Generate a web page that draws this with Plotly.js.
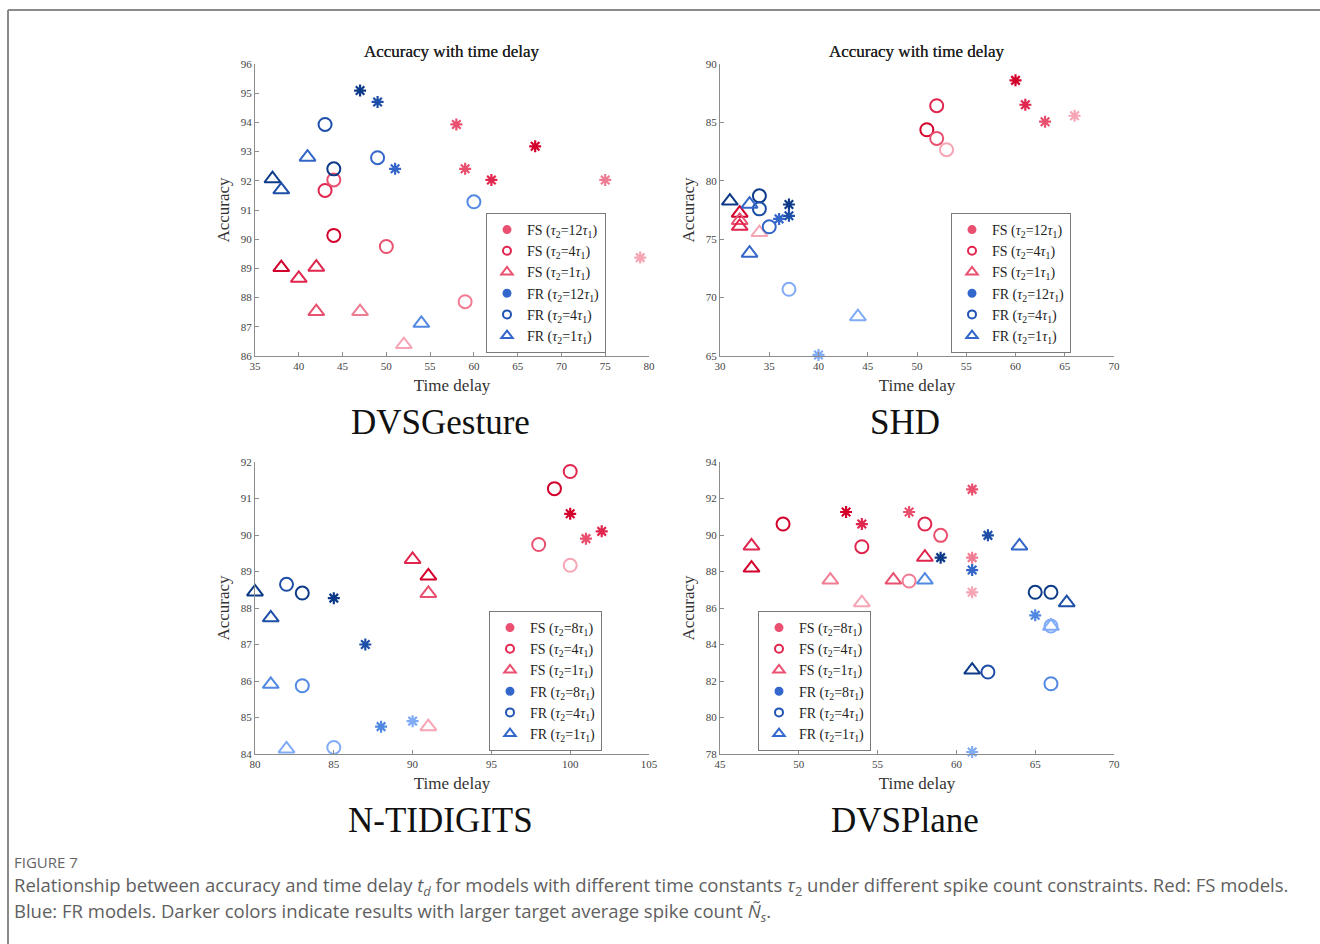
<!DOCTYPE html>
<html>
<head>
<meta charset="utf-8">
<script src="https://cdn.plot.ly/plotly-3.0.1.min.js"></script>
<style>
  html, body { margin: 0; padding: 0; background: #ffffff; }
  #chart { width: 1320px; height: 944px; }
</style>
</head>
<body>
<div id="chart"></div>
<script>
// ---------------- DATA ----------------
// level: 0 = largest target spike count (darkest) ... 4 = smallest (lightest)
const datasetNames = ['DVSGesture', 'SHD', 'N-TIDIGITS', 'DVSPlane'];
const panelTitle = 'Accuracy with time delay';
const xLabel = 'Time delay';
const yLabel = 'Accuracy';
const tauHigh = [12, 12, 8, 8];

// DVSGesture
const dvsg_fsA_x = [58, 67, 59, 62, 75, 79];
const dvsg_fsA_y = [93.93, 93.18, 92.41, 92.03, 92.03, 89.37];
const dvsg_fsA_lv = [2, 0, 2, 1, 3, 4];
const dvsg_fsO_x = [43, 44, 44, 50, 59];
const dvsg_fsO_y = [91.67, 92.03, 90.13, 89.75, 87.86];
const dvsg_fsO_lv = [1, 2, 0, 2, 3];
const dvsg_fsT_x = [38, 40, 42, 42, 47, 52];
const dvsg_fsT_y = [89.03, 88.66, 89.04, 87.52, 87.52, 86.39];
const dvsg_fsT_lv = [0, 1, 1, 2, 3, 4];
const dvsg_frA_x = [47, 49, 51];
const dvsg_frA_y = [95.09, 94.70, 92.41];
const dvsg_frA_lv = [0, 1, 2];
const dvsg_frO_x = [43, 44, 49, 60];
const dvsg_frO_y = [93.93, 92.41, 92.79, 91.28];
const dvsg_frO_lv = [1, 0, 2, 3];
const dvsg_frT_x = [41, 37, 38, 54];
const dvsg_frT_y = [92.81, 92.07, 91.69, 87.12];
const dvsg_frT_lv = [2, 0, 1, 3];

// SHD
const shd_fsA_x = [60, 61, 63, 66];
const shd_fsA_y = [88.6, 86.51, 85.06, 85.57];
const shd_fsA_lv = [0, 1, 2, 4];
const shd_fsO_x = [51, 52, 52, 53];
const shd_fsO_y = [84.37, 86.43, 83.63, 82.66];
const shd_fsO_lv = [0, 1, 2, 4];
const shd_fsT_x = [32, 32, 32, 34];
const shd_fsT_y = [77.23, 76.6, 76.1, 75.57];
const shd_fsT_lv = [0, 2, 1, 4];
const shd_frA_x = [37, 37, 36, 40];
const shd_frA_y = [77.97, 77.0, 76.74, 65.09];
const shd_frA_lv = [0, 1, 2, 4];
const shd_frO_x = [34, 34, 35, 37];
const shd_frO_y = [78.71, 77.6, 76.06, 70.71];
const shd_frO_lv = [0, 1, 2, 4];
const shd_frT_x = [31, 33, 33, 44];
const shd_frT_y = [78.26, 78.0, 73.8, 68.37];
const shd_frT_lv = [0, 2, 2, 4];

// N-TIDIGITS
const ntid_fsA_x = [100, 102, 101];
const ntid_fsA_y = [90.58, 90.10, 89.9];
const ntid_fsA_lv = [0, 1, 2];
const ntid_fsO_x = [99, 100, 98, 100];
const ntid_fsO_y = [91.27, 91.74, 89.74, 89.17];
const ntid_fsO_lv = [0, 1, 2, 4];
const ntid_fsT_x = [90, 91, 91, 91];
const ntid_fsT_y = [89.33, 88.88, 88.40, 84.75];
const ntid_fsT_lv = [1, 0, 2, 4];
const ntid_frA_x = [85, 87, 88, 90];
const ntid_frA_y = [88.27, 87.0, 84.75, 84.9];
const ntid_frA_lv = [0, 1, 3, 4];
const ntid_frO_x = [82, 83, 83, 85];
const ntid_frO_y = [88.65, 88.41, 85.87, 84.18];
const ntid_frO_lv = [1, 0, 3, 4];
const ntid_frT_x = [80, 81, 81, 82];
const ntid_frT_y = [88.44, 87.73, 85.91, 84.14];
const ntid_frT_lv = [0, 1, 3, 4];

// DVSPlane
const dvsp_fsA_x = [61, 53, 54, 57, 61, 61];
const dvsp_fsA_y = [92.5, 91.26, 90.6, 91.26, 88.76, 86.86];
const dvsp_fsA_lv = [2, 0, 1, 2, 3, 4];
const dvsp_fsO_x = [49, 54, 58, 59, 57];
const dvsp_fsO_y = [90.6, 89.36, 90.6, 89.98, 87.48];
const dvsp_fsO_lv = [0, 1, 1, 2, 3];
const dvsp_fsT_x = [47, 47, 52, 54, 56, 58];
const dvsp_fsT_y = [89.4, 88.19, 87.53, 86.29, 87.53, 88.78];
const dvsp_fsT_lv = [1, 0, 3, 4, 2, 1];
const dvsp_frA_x = [59, 62, 61, 65, 61];
const dvsp_frA_y = [88.76, 89.98, 88.08, 85.6, 78.11];
const dvsp_frA_lv = [0, 1, 2, 3, 4];
const dvsp_frO_x = [65, 66, 66, 62, 66];
const dvsp_frO_y = [86.86, 86.86, 85.01, 82.49, 81.85];
const dvsp_frO_lv = [0, 0, 4, 1, 3];
const dvsp_frT_x = [64, 67, 66, 61, 58];
const dvsp_frT_y = [89.4, 86.29, 85.0, 82.6, 87.53];
const dvsp_frT_lv = [2, 1, 4, 0, 3];

const xRanges = [[35, 80], [30, 70], [80, 105], [45, 70]];
const yRanges = [[86, 96], [65, 90], [84, 92], [78, 94]];
const yDticks = [1, 5, 1, 2];

const captionLabel = 'FIGURE 7';
const captionLine1 = 'Relationship between accuracy and time delay <i>t</i><sub><i>d</i></sub> for models with different time constants <i>τ</i><sub>2</sub> under different spike count constraints. Red: FS models.';
const captionLine2 = 'Blue: FR models. Darker colors indicate results with larger target average spike count <i>Ñ</i><sub><i>s</i></sub>.';

// ---------------- STYLE ----------------
const redShades = ['#d3002c', '#e0264e', '#e9506f', '#f07c94', '#f6a5b5'];
const blueShades = ['#0c3a88', '#1d4fa9', '#3466c9', '#5189e2', '#80abf6'];
const legRed = '#ea5070';
const legBlue = '#3467cb';
const SERIF = 'Liberation Serif, Times New Roman, serif';
const SANS = 'Open Sans, Lato, sans-serif';
const W = 1320, H = 944;

const panels = [
  {pre: 'dvsg', xd: [255, 649], yd: [64, 356], leg: [486, 283]},
  {pre: 'shd',  xd: [720, 1114], yd: [64, 356], leg: [951, 283]},
  {pre: 'ntid', xd: [255, 649], yd: [462, 754], leg: [489, 681]},
  {pre: 'dvsp', xd: [720, 1114], yd: [462, 754], leg: [758, 681]}
];
const src = {
  dvsg: {fsA:[dvsg_fsA_x,dvsg_fsA_y,dvsg_fsA_lv], fsO:[dvsg_fsO_x,dvsg_fsO_y,dvsg_fsO_lv], fsT:[dvsg_fsT_x,dvsg_fsT_y,dvsg_fsT_lv],
         frA:[dvsg_frA_x,dvsg_frA_y,dvsg_frA_lv], frO:[dvsg_frO_x,dvsg_frO_y,dvsg_frO_lv], frT:[dvsg_frT_x,dvsg_frT_y,dvsg_frT_lv]},
  shd:  {fsA:[shd_fsA_x,shd_fsA_y,shd_fsA_lv], fsO:[shd_fsO_x,shd_fsO_y,shd_fsO_lv], fsT:[shd_fsT_x,shd_fsT_y,shd_fsT_lv],
         frA:[shd_frA_x,shd_frA_y,shd_frA_lv], frO:[shd_frO_x,shd_frO_y,shd_frO_lv], frT:[shd_frT_x,shd_frT_y,shd_frT_lv]},
  ntid: {fsA:[ntid_fsA_x,ntid_fsA_y,ntid_fsA_lv], fsO:[ntid_fsO_x,ntid_fsO_y,ntid_fsO_lv], fsT:[ntid_fsT_x,ntid_fsT_y,ntid_fsT_lv],
         frA:[ntid_frA_x,ntid_frA_y,ntid_frA_lv], frO:[ntid_frO_x,ntid_frO_y,ntid_frO_lv], frT:[ntid_frT_x,ntid_frT_y,ntid_frT_lv]},
  dvsp: {fsA:[dvsp_fsA_x,dvsp_fsA_y,dvsp_fsA_lv], fsO:[dvsp_fsO_x,dvsp_fsO_y,dvsp_fsO_lv], fsT:[dvsp_fsT_x,dvsp_fsT_y,dvsp_fsT_lv],
         frA:[dvsp_frA_x,dvsp_frA_y,dvsp_frA_lv], frO:[dvsp_frO_x,dvsp_frO_y,dvsp_frO_lv], frT:[dvsp_frT_x,dvsp_frT_y,dvsp_frT_lv]}
};
const seriesDefs = [
  {key: 'fsA', sym: 'asterisk-open', size: 10, lw: 2.2, shades: redShades, grp: 'FS', tau: 'hi', legSym: 'circle', legColor: legRed},
  {key: 'fsO', sym: 'circle-open', size: 13, lw: 2, shades: redShades, grp: 'FS', tau: '4', legSym: 'circle-open', legColor: '#e2264f'},
  {key: 'fsT', sym: 'triangle-up-open', size: 14, lw: 2, shades: redShades, grp: 'FS', tau: '1', legSym: 'triangle-up-open', legColor: legRed},
  {key: 'frA', sym: 'asterisk-open', size: 10, lw: 2.2, shades: blueShades, grp: 'FR', tau: 'hi', legSym: 'circle', legColor: legBlue},
  {key: 'frO', sym: 'circle-open', size: 13, lw: 2, shades: blueShades, grp: 'FR', tau: '4', legSym: 'circle-open', legColor: '#2254b4'},
  {key: 'frT', sym: 'triangle-up-open', size: 14, lw: 2, shades: blueShades, grp: 'FR', tau: '1', legSym: 'triangle-up-open', legColor: legBlue}
];

const traces = [];
const layout = {
  width: W, height: H,
  margin: {l: 0, r: 0, t: 0, b: 0},
  paper_bgcolor: '#ffffff', plot_bgcolor: '#ffffff',
  font: {family: SERIF, color: '#333'},
  showlegend: true,
  annotations: [],
  shapes: [
    {type: 'line', xref: 'paper', yref: 'paper', x0: 8 / W, x1: 8 / W, y0: 0, y1: 1 - 10 / H, line: {color: '#8a8a8a', width: 2}},
    {type: 'line', xref: 'paper', yref: 'paper', x0: 8 / W, x1: 1, y0: 1 - 10 / H, y1: 1 - 10 / H, line: {color: '#8a8a8a', width: 2}}
  ]
};

panels.forEach((p, i) => {
  const n = i + 1;
  const xa = n === 1 ? 'x' : 'x' + n;
  const ya = n === 1 ? 'y' : 'y' + n;
  const xk = n === 1 ? 'xaxis' : 'xaxis' + n;
  const yk = n === 1 ? 'yaxis' : 'yaxis' + n;
  const lk = n === 1 ? 'legend' : 'legend' + n;
  const axCommon = {
    showline: true, linecolor: '#8c8c8c', linewidth: 1,
    ticks: 'inside', ticklen: 4, tickcolor: '#8c8c8c', tickwidth: 1,
    showgrid: false, zeroline: false, mirror: false,
    tickfont: {family: SERIF, size: 11, color: '#444'},
    fixedrange: true
  };
  layout[xk] = Object.assign({}, axCommon, {
    domain: [p.xd[0] / W, p.xd[1] / W], anchor: ya,
    range: xRanges[i], tick0: xRanges[i][0], dtick: 5,
    title: {text: xLabel, font: {family: SERIF, size: 17, color: '#333'}, standoff: 7}
  });
  layout[yk] = Object.assign({}, axCommon, {
    domain: [1 - p.yd[1] / H, 1 - p.yd[0] / H], anchor: xa,
    range: yRanges[i], tick0: yRanges[i][0], dtick: yDticks[i],
    title: {text: yLabel, font: {family: SERIF, size: 17, color: '#333'}, standoff: 6}
  });
  layout[lk] = {
    x: p.leg[0] / W, y: 1 - p.leg[1] / H, xanchor: 'left', yanchor: 'middle',
    bgcolor: '#ffffff', bordercolor: '#7a7a7a', borderwidth: 1,
    font: {family: SERIF, size: 14, color: '#222'},
    itemwidth: 30, tracegroupgap: 0
  };
  // panel title
  layout.annotations.push({
    text: panelTitle, xref: 'paper', yref: 'paper',
    x: (p.xd[0] + p.xd[1]) / 2 / W, y: 1 - 52 / H, xanchor: 'center', yanchor: 'middle',
    showarrow: false, font: {family: SERIF, size: 17, color: '#222'}
  });
  // dataset name
  layout.annotations.push({
    text: datasetNames[i], xref: 'paper', yref: 'paper',
    x: ((p.xd[0] + p.xd[1]) / 2 - 12) / W, y: 1 - (p.yd[1] + 66) / H, xanchor: 'center', yanchor: 'middle',
    showarrow: false, font: {family: SERIF, size: 35, color: '#111'}
  });

  const d = src[p.pre];
  // data traces
  seriesDefs.forEach(s => {
    const [xs, ys, lv] = d[s.key];
    traces.push({
      type: 'scatter', mode: 'markers', x: xs, y: ys, xaxis: xa, yaxis: ya,
      showlegend: false, cliponaxis: false, hoverinfo: 'x+y',
      marker: {symbol: s.sym, size: s.size, color: lv.map(l => s.shades[l]), line: {width: s.lw}}
    });
  });
  // legend entries
  seriesDefs.forEach(s => {
    const t = s.tau === 'hi' ? String(tauHigh[i]) : s.tau;
    traces.push({
      type: 'scatter', mode: 'markers', x: [null], y: [null], xaxis: xa, yaxis: ya,
      legend: lk, showlegend: true,
      name: s.grp + ' (<i>τ</i><sub>2</sub>=' + t + '<i>τ</i><sub>1</sub>)',
      marker: {symbol: s.legSym, size: s.legSym === 'circle' ? 7 : (s.legSym === 'circle-open' ? 8 : 10),
               color: s.legColor, line: {width: 2, color: s.legColor}}
    });
  });
});

// caption
layout.annotations.push({
  text: captionLabel, xref: 'paper', yref: 'paper', x: 12 / W, y: 1 - 862 / H,
  xanchor: 'left', yanchor: 'middle', showarrow: false,
  font: {family: SANS, size: 15, color: '#666'}
});
layout.annotations.push({
  text: captionLine1, xref: 'paper', yref: 'paper', x: 12 / W, y: 1 - 886 / H,
  xanchor: 'left', yanchor: 'middle', align: 'left', showarrow: false,
  font: {family: SANS, size: 18.5, color: '#606060'}
});
layout.annotations.push({
  text: captionLine2, xref: 'paper', yref: 'paper', x: 12 / W, y: 1 - 912 / H,
  xanchor: 'left', yanchor: 'middle', align: 'left', showarrow: false,
  font: {family: SANS, size: 18.5, color: '#606060'}
});

Plotly.newPlot('chart', traces, layout, {displayModeBar: false, staticPlot: true});
</script>
</body>
</html>
